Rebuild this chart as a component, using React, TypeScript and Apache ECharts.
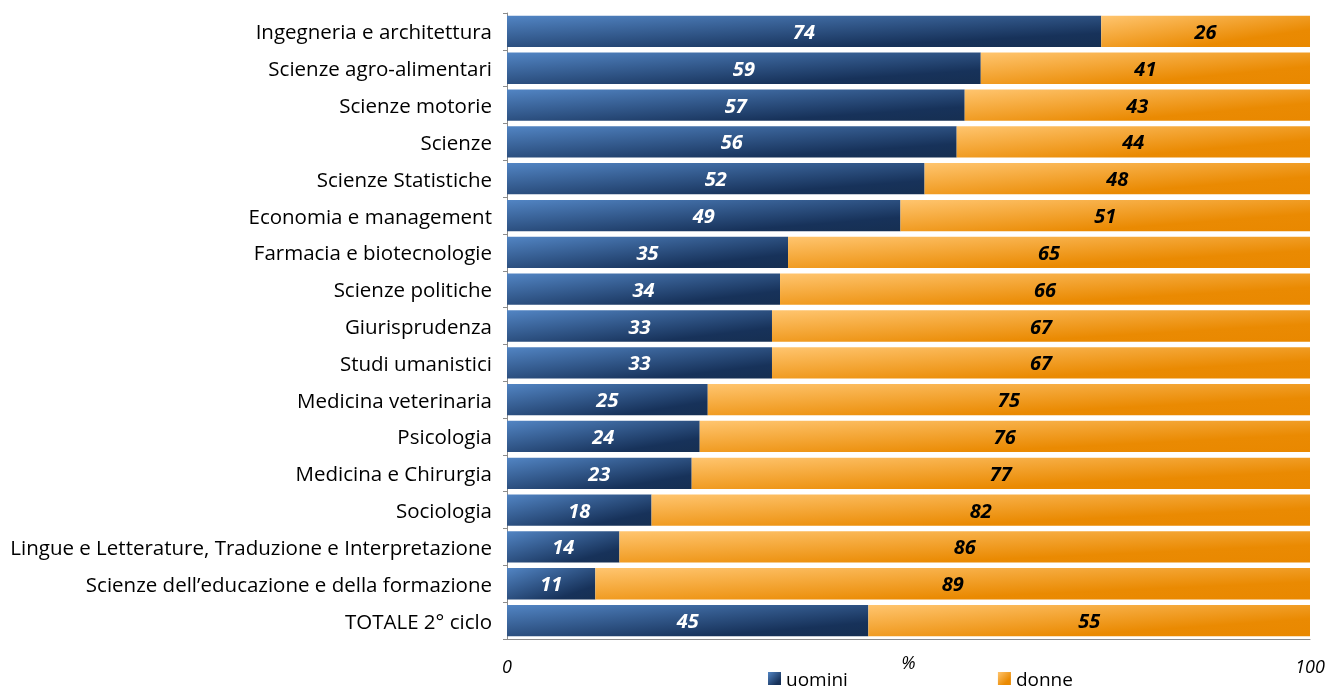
import React, { useEffect, useRef } from "react";
import * as echarts from "echarts";

const categories = [
  "Ingegneria e architettura",
  "Scienze agro-alimentari",
  "Scienze motorie",
  "Scienze",
  "Scienze Statistiche",
  "Economia e management",
  "Farmacia e biotecnologie",
  "Scienze politiche",
  "Giurisprudenza",
  "Studi umanistici",
  "Medicina veterinaria",
  "Psicologia",
  "Medicina e Chirurgia",
  "Sociologia",
  "Lingue e Letterature, Traduzione e Interpretazione",
  "Scienze dell\u2019educazione e della formazione",
  "TOTALE 2\u00b0 ciclo",
];
const uomini = [74, 59, 57, 56, 52, 49, 35, 34, 33, 33, 25, 24, 23, 18, 14, 11, 45];
const donne = [26, 41, 43, 44, 48, 51, 65, 66, 67, 67, 75, 76, 77, 82, 86, 89, 55];
const xTicks = [0, 100];

const FONT = "Open Sans";

export default function App() {
  const ref = useRef<HTMLDivElement>(null);
  useEffect(() => {
    if (!ref.current) return;
    const chart = echarts.init(ref.current, null, { renderer: "svg" });
    const blue = new echarts.graphic.LinearGradient(0, 0, 1, 1, [
      { offset: 0, color: "#5285c4" },
      { offset: 0.78, color: "#17325a" },
      { offset: 1, color: "#162f52" },
    ]);
    const orange = new echarts.graphic.LinearGradient(0, 0, 1, 1, [
      { offset: 0, color: "#ffc56f" },
      { offset: 0.72, color: "#ea8a02" },
      { offset: 1, color: "#e98800" },
    ]);
    const labelBase = {
      show: true,
      position: "inside",
      fontFamily: FONT,
      fontSize: 20,
      fontWeight: "bold",
      fontStyle: "italic",
    };
    chart.setOption({
      animation: false,
      grid: {
        left: 507,
        top: 13,
        width: 803,
        height: 626,
        containLabel: false,
        outerBoundsMode: "none",
      },
      legend: {
        left: 763,
        top: 664,
        itemWidth: 13,
        itemHeight: 13,
        itemGap: 150,
        icon: "rect",
        textStyle: { fontFamily: FONT, fontSize: 19, lineHeight: 19, color: "#000" },
        data: ["uomini", "donne"],
      },
      xAxis: {
        type: "value",
        min: xTicks[0],
        max: xTicks[1],
        interval: 100,
        name: "%",
        nameLocation: "middle",
        nameGap: 14,
        nameMoveOverlap: false,
        nameTextStyle: { fontFamily: FONT, fontSize: 18, fontStyle: "italic", color: "#000" },
        axisLine: { show: true, lineStyle: { color: "#8c8c8c", width: 1 } },
        axisTick: { show: false },
        splitLine: { show: false },
        axisLabel: {
          fontFamily: FONT,
          fontSize: 18,
          fontStyle: "italic",
          color: "#000",
          margin: 18,
        },
      },
      yAxis: {
        type: "category",
        inverse: true,
        data: categories,
        axisLine: { show: true, lineStyle: { color: "#8c8c8c", width: 1 } },
        axisTick: { show: true, length: 4, lineStyle: { color: "#8c8c8c" } },
        axisLabel: { fontFamily: FONT, fontSize: 20.5, color: "#000", margin: 15 },
      },
      series: [
        {
          name: "uomini",
          type: "bar",
          stack: "tot",
          data: uomini,
          barCategoryGap: "15%",
          itemStyle: { color: blue },
          label: { ...labelBase, color: "#fff" },
        },
        {
          name: "donne",
          type: "bar",
          stack: "tot",
          data: donne,
          barCategoryGap: "15%",
          itemStyle: { color: orange },
          label: { ...labelBase, color: "#000" },
        },
      ],
    });
    return () => chart.dispose();
  }, []);
  return (
    <div
      ref={ref}
      style={{ position: "fixed", left: 0, top: 0, width: 1330, height: 691 }}
    />
  );
}
